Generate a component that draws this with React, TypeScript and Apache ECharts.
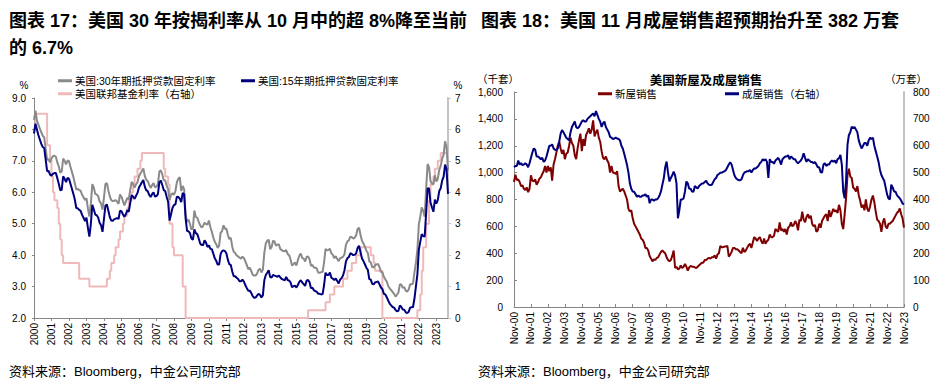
import React, { useEffect, useRef } from 'react';
import * as echarts from 'echarts';

// ---------- Chart 17 data (monthly, Apr-2000 .. Dec-2023) ----------
const yearLabels = ['2000','2001','2002','2003','2004','2005','2006','2007','2008','2009','2010','2011','2012','2013','2014','2015','2016','2017','2018','2019','2020','2021','2022','2023'];

const rate30 = [
  8.30, 8.60, 8.29, 8.15, 8.03, 7.91, 7.80, 7.75, 7.38,
  7.03, 7.05, 6.95, 7.08, 7.15, 7.16, 7.13, 6.95, 6.82, 6.62, 6.66, 7.07,
  7.00, 6.89, 7.01, 6.99, 6.81, 6.65, 6.49, 6.29, 6.09, 6.11, 6.07, 6.05,
  5.92, 5.84, 5.75, 5.81, 5.48, 5.23, 5.63, 6.26, 6.15, 5.95, 5.93, 5.88,
  5.71, 5.64, 5.45, 5.83, 6.27, 6.29, 6.06, 5.87, 5.75, 5.72, 5.73, 5.75,
  5.71, 5.63, 5.93, 5.86, 5.72, 5.58, 5.70, 5.82, 5.77, 6.07, 6.33, 6.27,
  6.15, 6.25, 6.32, 6.51, 6.60, 6.68, 6.76, 6.52, 6.40, 6.36, 6.24, 6.14,
  6.22, 6.29, 6.16, 6.18, 6.26, 6.66, 6.70, 6.57, 6.38, 6.38, 6.21, 6.10,
  5.76, 5.92, 5.97, 5.92, 6.04, 6.32, 6.43, 6.48, 6.04, 6.20, 6.09, 5.29,
  5.06, 5.13, 5.00, 4.81, 4.86, 5.42, 5.22, 5.19, 5.06, 4.95, 4.88, 4.93,
  5.03, 4.99, 4.97, 5.10, 4.89, 4.74, 4.56, 4.43, 4.35, 4.23, 4.30, 4.71,
  4.76, 4.95, 4.84, 4.84, 4.64, 4.51, 4.55, 4.27, 4.11, 4.07, 3.99, 3.96,
  3.92, 3.89, 3.95, 3.91, 3.80, 3.68, 3.55, 3.60, 3.50, 3.38, 3.35, 3.35,
  3.41, 3.53, 3.57, 3.45, 3.54, 4.07, 4.37, 4.46, 4.49, 4.19, 4.26, 4.46,
  4.43, 4.30, 4.34, 4.34, 4.19, 4.16, 4.13, 4.12, 4.16, 4.04, 4.00, 3.86,
  3.67, 3.71, 3.77, 3.67, 3.84, 3.98, 4.05, 3.91, 3.89, 3.80, 3.94, 3.96,
  3.87, 3.66, 3.69, 3.61, 3.60, 3.57, 3.44, 3.44, 3.46, 3.47, 3.77, 4.20,
  4.15, 4.17, 4.20, 4.05, 4.01, 3.90, 3.97, 3.88, 3.81, 3.90, 3.92, 3.95,
  4.03, 4.33, 4.44, 4.47, 4.59, 4.57, 4.53, 4.55, 4.63, 4.83, 4.87, 4.64,
  4.46, 4.37, 4.27, 4.14, 4.07, 3.80, 3.77, 3.62, 3.61, 3.69, 3.70, 3.72,
  3.62, 3.47, 3.45, 3.31, 3.23, 3.16, 3.02, 2.94, 2.89, 2.83, 2.77, 2.68,
  2.74, 2.81, 3.08, 3.06, 2.96, 2.98, 2.87, 2.84, 2.90, 3.07, 3.07, 3.10,
  3.45, 3.76, 4.17, 4.98, 5.23, 5.52, 5.41, 5.22, 6.11, 6.90, 6.80, 6.36,
  6.27, 6.26, 6.54, 6.34, 6.43, 6.71, 6.84, 7.07, 7.20, 7.62, 7.44, 6.70,
];

const rate15 = [
  7.87, 8.18, 8.00, 7.82, 7.68, 7.54, 7.44, 7.41, 7.05,
  6.67, 6.68, 6.56, 6.53, 6.59, 6.61, 6.61, 6.45, 6.27, 6.06, 6.08, 6.51,
  6.43, 6.32, 6.46, 6.43, 6.27, 6.11, 5.95, 5.77, 5.50, 5.49, 5.44, 5.41,
  5.28, 5.19, 5.08, 5.19, 4.86, 4.59, 4.99, 5.60, 5.46, 5.29, 5.27, 5.20,
  5.03, 4.95, 4.74, 5.15, 5.58, 5.61, 5.41, 5.21, 5.10, 5.09, 5.14, 5.16,
  5.18, 5.15, 5.41, 5.40, 5.30, 5.22, 5.30, 5.43, 5.38, 5.66, 5.91, 5.86,
  5.79, 5.89, 5.98, 6.15, 6.23, 6.32, 6.39, 6.18, 6.06, 6.04, 5.92, 5.85,
  5.94, 6.00, 5.86, 5.88, 5.94, 6.32, 6.37, 6.23, 6.07, 6.04, 5.86, 5.70,
  5.10, 5.30, 5.50, 5.60, 5.61, 5.86, 5.85, 5.80, 5.69, 5.98, 5.94, 5.17,
  4.77, 4.76, 4.70, 4.53, 4.49, 4.82, 4.70, 4.67, 4.53, 4.37, 4.32, 4.32,
  4.47, 4.40, 4.26, 4.31, 4.20, 4.19, 4.05, 3.90, 3.82, 3.70, 3.70, 4.03,
  4.13, 4.15, 4.13, 4.05, 3.85, 3.71, 3.69, 3.48, 3.33, 3.33, 3.28, 3.24,
  3.17, 3.17, 3.22, 3.16, 3.04, 2.95, 2.87, 2.87, 2.80, 2.70, 2.64, 2.65,
  2.71, 2.77, 2.74, 2.65, 2.72, 3.20, 3.37, 3.44, 3.52, 3.30, 3.29, 3.37,
  3.35, 3.33, 3.31, 3.35, 3.29, 3.24, 3.22, 3.20, 3.31, 3.21, 3.19, 3.13,
  2.98, 3.01, 3.03, 2.97, 3.05, 3.15, 3.20, 3.13, 3.08, 3.02, 3.19, 3.21,
  3.14, 2.95, 2.96, 2.88, 2.86, 2.83, 2.77, 2.77, 2.75, 2.76, 3.05, 3.44,
  3.37, 3.37, 3.45, 3.28, 3.25, 3.21, 3.26, 3.18, 3.10, 3.22, 3.27, 3.35,
  3.52, 3.80, 3.90, 3.94, 4.06, 4.04, 4.00, 4.01, 4.06, 4.23, 4.30, 4.09,
  3.89, 3.81, 3.71, 3.60, 3.53, 3.24, 3.22, 3.09, 3.07, 3.13, 3.15, 3.16,
  3.07, 2.97, 2.92, 2.77, 2.75, 2.66, 2.55, 2.46, 2.40, 2.35, 2.33, 2.26,
  2.21, 2.23, 2.40, 2.35, 2.27, 2.26, 2.18, 2.16, 2.19, 2.33, 2.34, 2.35,
  2.62, 3.01, 3.39, 4.17, 4.43, 4.67, 4.60, 4.59, 5.33, 6.13, 6.12, 5.67,
  5.52, 5.38, 5.77, 5.64, 5.75, 6.04, 6.13, 6.37, 6.50, 6.88, 6.73, 5.95,
];

const fedFunds = [
  6, 6.5, 6.5, 6.5, 6.5, 6.5, 6.5, 6.5, 6.5,
  5.5, 5.5, 5, 4.5, 4, 3.75, 3.75, 3.5, 3, 2.5, 2, 1.75,
  1.75, 1.75, 1.75, 1.75, 1.75, 1.75, 1.75, 1.75, 1.75, 1.75, 1.25, 1.25,
  1.25, 1.25, 1.25, 1.25, 1.25, 1, 1, 1, 1, 1, 1, 1,
  1, 1, 1, 1, 1, 1.25, 1.25, 1.5, 1.75, 1.75, 2, 2.25,
  2.25, 2.5, 2.75, 2.75, 3, 3.25, 3.25, 3.5, 3.75, 3.75, 4, 4.25,
  4.5, 4.5, 4.75, 4.75, 5, 5.25, 5.25, 5.25, 5.25, 5.25, 5.25, 5.25,
  5.25, 5.25, 5.25, 5.25, 5.25, 5.25, 5.25, 5.25, 4.75, 4.5, 4.5, 4.25,
  3, 3, 2.25, 2, 2, 2, 2, 2, 2, 1, 1, 0,
  0, 0, 0, 0, 0, 0, 0, 0, 0, 0, 0, 0,
  0, 0, 0, 0, 0, 0, 0, 0, 0, 0, 0, 0,
  0, 0, 0, 0, 0, 0, 0, 0, 0, 0, 0, 0,
  0, 0, 0, 0, 0, 0, 0, 0, 0, 0, 0, 0,
  0, 0, 0, 0, 0, 0, 0, 0, 0, 0, 0, 0,
  0, 0, 0, 0, 0, 0, 0, 0, 0, 0, 0, 0,
  0, 0, 0, 0, 0, 0, 0, 0, 0, 0, 0, 0.25,
  0.25, 0.25, 0.25, 0.25, 0.25, 0.25, 0.25, 0.25, 0.25, 0.25, 0.25, 0.5,
  0.5, 0.5, 0.75, 0.75, 0.75, 1, 1, 1, 1, 1, 1, 1.25,
  1.25, 1.25, 1.5, 1.5, 1.5, 1.75, 1.75, 1.75, 2, 2, 2, 2.25,
  2.25, 2.25, 2.25, 2.25, 2.25, 2.25, 2, 2, 1.75, 1.5, 1.5, 1.5,
  1.5, 1.5, 0, 0, 0, 0, 0, 0, 0, 0, 0, 0,
  0, 0, 0, 0, 0, 0, 0, 0, 0, 0, 0, 0,
  0, 0, 0.25, 0.25, 0.75, 1.5, 2.25, 2.25, 3, 3, 3.75, 4.25,
  4.25, 4.5, 4.75, 4.75, 5, 5, 5.25, 5.25, 5.25, 5.25, 5.25, 5.25,
];

// ---------- Chart 18 data (monthly, Nov-2000 .. Nov-2023) ----------
const novLabels = ['Nov-00','Nov-01','Nov-02','Nov-03','Nov-04','Nov-05','Nov-06','Nov-07','Nov-08','Nov-09','Nov-10','Nov-11','Nov-12','Nov-13','Nov-14','Nov-15','Nov-16','Nov-17','Nov-18','Nov-19','Nov-20','Nov-21','Nov-22','Nov-23'];

const newHomeSales = [
  930, 985,
  945, 950, 930, 900, 905, 880, 870, 890, 855, 880, 980, 940,
  935, 950, 910, 930, 955, 965, 990, 1010, 1050, 1000, 1050, 1010,
  1040, 940, 1060, 1100, 1150, 1200, 1230, 1180, 1140, 1170, 1100, 1140,
  1150, 1200, 1260, 1220, 1200, 1130, 1100, 1180, 1240, 1290, 1160, 1250,
  1200, 1280, 1300, 1330, 1290, 1320, 1389, 1270, 1300, 1320, 1260, 1230,
  1160, 1110, 1100, 1120, 1090, 1070, 1000, 1050, 1000, 1000, 990, 1010,
  900, 860, 870, 880, 860, 830, 800, 730, 710, 720, 660, 620,
  600, 580, 560, 540, 510, 500, 480, 440, 440, 420, 380, 360,
  340, 355, 350, 365, 370, 390, 410, 420, 410, 400, 370, 350,
  340, 350, 380, 420, 290, 300, 280, 285, 310, 290, 300, 320,
  300, 270, 295, 305, 300, 300, 295, 290, 300, 310, 320, 330,
  330, 350, 350, 360, 365, 360, 370, 370, 385, 360, 390, 400,
  455, 445, 445, 450, 450, 455, 375, 390, 410, 440, 440, 430,
  430, 420, 410, 400, 440, 410, 420, 440, 460, 470, 440, 480,
  520, 510, 490, 510, 520, 490, 470, 510, 470, 490, 500, 540,
  520, 520, 530, 580, 570, 560, 630, 570, 580, 560, 580, 540,
  590, 600, 630, 600, 610, 640, 620, 570, 650, 640, 710, 650,
  630, 670, 690, 660, 680, 620, 600, 610, 560, 570, 620, 590,
  640, 660, 680, 690, 640, 720, 670, 700, 730, 710, 720, 700,
  760, 720, 620, 580, 690, 810, 980, 1030, 970, 960, 890, 880,
  860, 900, 830, 790, 740, 760, 720, 800, 730, 710, 750, 800,
  830, 780, 710, 650, 640, 620, 560, 630, 660, 600, 585, 620,
  620, 630, 640, 660, 680, 700, 710, 734, 690, 660, 590,
];

const existingHomeSales = [
  520, 525,
  525, 545, 530, 535, 528, 530, 535, 530, 520, 535, 555, 575,
  590, 585, 560, 560, 555, 550, 555, 540, 545, 560, 580, 600,
  600, 605, 590, 585, 584, 590, 615, 645, 658, 650, 640, 630,
  625, 620, 650, 670, 680, 690, 670, 665, 670, 680, 690, 695,
  690, 690, 700, 705, 710, 715, 720, 710, 729, 715, 700, 690,
  670, 683, 690, 670, 660, 650, 633, 630, 625, 627, 630, 627,
  625, 620, 600, 590, 570, 550, 528, 500, 460, 440, 430, 429,
  420, 410, 415, 410, 410, 415, 415, 420, 410, 415, 386, 400,
  400, 395, 400, 400, 405, 415, 430, 455, 479, 520, 541, 500,
  467, 480, 490, 504, 490, 460, 330, 360, 400, 400, 404, 430,
  467, 460, 440, 440, 430, 429, 450, 445, 441, 450, 455, 460,
  460, 465, 470, 460, 455, 454, 455, 465, 475, 480, 491, 495,
  500, 500, 503, 505, 510, 520, 530, 538, 530, 510, 490, 480,
  475, 472, 472, 475, 490, 500, 503, 505, 505, 510, 500, 510,
  515, 515, 520, 525, 535, 540, 550, 545, 550, 540, 480, 550,
  540, 540, 533, 545, 550, 555, 545, 530, 550, 555, 560, 560,
  565, 550, 560, 555, 550, 550, 540, 535, 540, 545, 555, 572,
  555, 540, 550, 545, 540, 540, 535, 540, 530, 520, 520, 501,
  500, 530, 535, 525, 530, 530, 540, 545, 540, 545, 535, 550,
  553, 566, 530, 430, 404, 470, 603, 640, 650, 671, 665, 670,
  660, 650, 620, 603, 590, 600, 610, 610, 600, 620, 630, 625,
  630, 600, 580, 560, 540, 510, 491, 480, 470, 445, 420, 404,
  400, 455, 445, 430, 429, 416, 410, 405, 396, 385, 382,
];

const S17_30 = '美国:30年期抵押贷款固定利率';
const S17_15 = '美国:15年期抵押贷款固定利率';
const S17_FF = '美国联邦基金利率（右轴）';
const S18_NEW = '新屋销售';
const S18_EX = '成屋销售（右轴）';

const FONT = "'Liberation Sans', Arial, 'Noto Sans CJK SC', sans-serif";
const AXIS_GREY = '#868686';
const RIGHT_AXIS_GREY = '#c4c4c4';

function buildOption() {
  const cats17 = rate30.map((_, i) => 'm' + i);
  const cats18 = newHomeSales.map((_, i) => 'n' + i);
  const every12 = (idx: number) => idx % 12 === 0;
  const lbl = { fontFamily: FONT, fontSize: 10, color: '#000' };

  const legendBase = {
    orient: 'horizontal',
    padding: 0,
    itemWidth: 14,
    itemHeight: 3,
    itemGap: 0,
    icon: 'rect',
    selectedMode: false,
    textStyle: { fontFamily: FONT, fontSize: 10.5, color: '#000', padding: [0, 0, 0, -2] },
  };

  const text = (x: number, y: number, t: string, size: number, bold = false, align = 'left') => ({
    type: 'text',
    x,
    y,
    silent: true,
    style: {
      text: t,
      fill: '#000',
      fontFamily: FONT,
      fontSize: size,
      fontWeight: bold ? 'bold' : 'normal',
      align,
      verticalAlign: 'middle',
    },
  });

  return {
    animation: false,
    backgroundColor: '#fff',
    graphic: [
      text(9, 21, '图表 17：美国 30 年按揭利率从 10 月中的超 8%降至当前', 18, true),
      text(9, 48, '的 6.7%', 18, true),
      text(481, 21, '图表 18：美国 11 月成屋销售超预期抬升至 382 万套', 18, true),
      text(9, 371, '资料来源：Bloomberg，中金公司研究部', 13),
      text(478, 371, '资料来源：Bloomberg，中金公司研究部', 13),
      text(24, 85, '%', 10, false, 'center'),
      text(458, 85, '%', 10, false, 'center'),
      text(706, 81, '美国新屋及成屋销售', 12.5, true, 'center'),
      text(498, 79, '（千套）', 10.5, false, 'center'),
      text(906, 79, '（万套）', 10.5, false, 'center'),
    ],
    legend: [
      { ...legendBase, data: [S17_30], left: 58, top: 75.5 },
      { ...legendBase, data: [S17_15], left: 241, top: 75.5 },
      { ...legendBase, data: [S17_FF], left: 58, top: 88.5 },
      { ...legendBase, data: [S18_NEW], left: 598, top: 88.5 },
      { ...legendBase, data: [S18_EX], left: 725, top: 88.5 },
    ],
    grid: [
      { left: 34, top: 98, width: 414, height: 220, containLabel: false },
      { left: 514, top: 92, width: 390, height: 215, containLabel: false },
    ],
    xAxis: [
      {
        type: 'category',
        gridIndex: 0,
        data: cats17,
        boundaryGap: false,
        axisLine: { lineStyle: { color: AXIS_GREY, width: 1 } },
        axisTick: { show: true, interval: every12, length: 3, inside: false, lineStyle: { color: AXIS_GREY } },
        axisLabel: {
          ...lbl,
          interval: every12,
          rotate: 90,
          margin: 5,
          formatter: (_v: string, idx: number) => (idx % 12 === 0 ? yearLabels[idx / 12] : ''),
        },
        splitLine: { show: false },
      },
      {
        type: 'category',
        gridIndex: 1,
        data: cats18,
        boundaryGap: false,
        axisLine: { lineStyle: { color: AXIS_GREY, width: 1 } },
        axisTick: { show: true, interval: every12, length: 3, inside: true, lineStyle: { color: AXIS_GREY } },
        axisLabel: {
          ...lbl,
          interval: every12,
          rotate: 90,
          margin: 5,
          formatter: (_v: string, idx: number) => (idx % 12 === 0 ? novLabels[idx / 12] : ''),
        },
        splitLine: { show: false },
      },
    ],
    yAxis: [
      {
        type: 'value',
        gridIndex: 0,
        position: 'left',
        min: 2,
        max: 9,
        interval: 1,
        axisLine: { show: true, lineStyle: { color: AXIS_GREY, width: 1 } },
        axisTick: { show: true, length: 2, lineStyle: { color: AXIS_GREY } },
        axisLabel: { ...lbl, margin: 8, formatter: (v: number) => v.toFixed(1) },
        splitLine: { show: false },
      },
      {
        type: 'value',
        gridIndex: 0,
        position: 'right',
        min: 0,
        max: 7,
        interval: 1,
        axisLine: { show: true, lineStyle: { color: RIGHT_AXIS_GREY, width: 2 } },
        axisTick: { show: true, length: 3, lineStyle: { color: RIGHT_AXIS_GREY, width: 1 } },
        axisLabel: { ...lbl, margin: 7 },
        splitLine: { show: false },
      },
      {
        type: 'value',
        gridIndex: 1,
        position: 'left',
        min: 0,
        max: 1600,
        interval: 200,
        axisLine: { show: true, lineStyle: { color: AXIS_GREY, width: 1 } },
        axisTick: { show: true, length: 3, inside: true, lineStyle: { color: AXIS_GREY } },
        axisLabel: { ...lbl, margin: 11, formatter: (v: number) => v.toLocaleString('en-US') },
        splitLine: { show: false },
      },
      {
        type: 'value',
        gridIndex: 1,
        position: 'right',
        min: 0,
        max: 800,
        interval: 100,
        axisLine: { show: true, lineStyle: { color: RIGHT_AXIS_GREY, width: 2 } },
        axisTick: { show: false },
        axisLabel: { ...lbl, margin: 9 },
        splitLine: { show: false },
      },
    ],
    series: [
      {
        name: S17_FF,
        type: 'line',
        xAxisIndex: 0,
        yAxisIndex: 1,
        data: fedFunds,
        step: 'end',
        showSymbol: false,
        symbol: 'none',
        itemStyle: { color: '#f0b9b9' },
        lineStyle: { color: '#f0b9b9', width: 2 },
      },
      {
        name: S17_30,
        type: 'line',
        xAxisIndex: 0,
        yAxisIndex: 0,
        data: rate30,
        showSymbol: false,
        symbol: 'none',
        itemStyle: { color: '#8a8a8a' },
        lineStyle: { color: '#8a8a8a', width: 2 },
      },
      {
        name: S17_15,
        type: 'line',
        xAxisIndex: 0,
        yAxisIndex: 0,
        data: rate15,
        showSymbol: false,
        symbol: 'none',
        itemStyle: { color: '#00007f' },
        lineStyle: { color: '#00007f', width: 2 },
      },
      {
        name: S18_NEW,
        type: 'line',
        xAxisIndex: 1,
        yAxisIndex: 2,
        data: newHomeSales,
        showSymbol: false,
        symbol: 'none',
        itemStyle: { color: '#7f0000' },
        lineStyle: { color: '#7f0000', width: 2 },
      },
      {
        name: S18_EX,
        type: 'line',
        xAxisIndex: 1,
        yAxisIndex: 3,
        data: existingHomeSales,
        showSymbol: false,
        symbol: 'none',
        itemStyle: { color: '#00007f' },
        lineStyle: { color: '#00007f', width: 2 },
      },
    ],
  };
}

export default function App() {
  const ref = useRef<HTMLDivElement>(null);
  useEffect(() => {
    if (!ref.current) return;
    const chart = echarts.init(ref.current, null, { renderer: 'svg' });
    chart.setOption(buildOption() as any);
    return () => chart.dispose();
  }, []);
  return (
    <div
      ref={ref}
      style={{ position: 'fixed', left: 0, top: 0, width: 945, height: 387, background: '#fff' }}
    />
  );
}
